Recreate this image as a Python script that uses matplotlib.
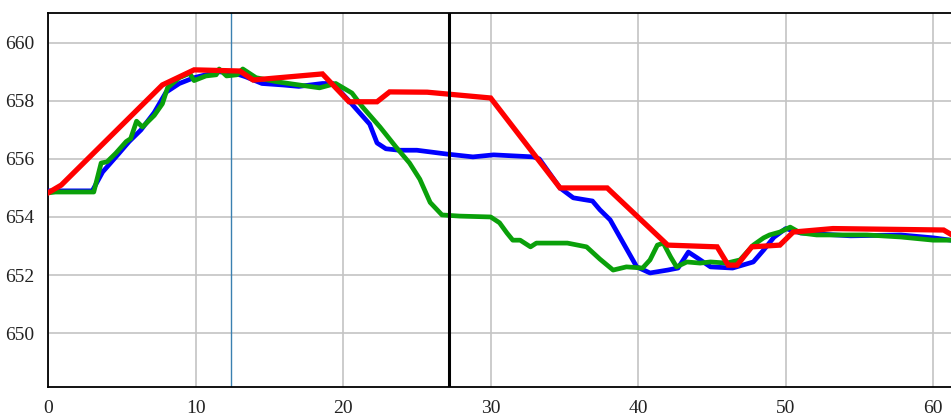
import numpy as np
import matplotlib
matplotlib.use("Agg")
import matplotlib.pyplot as plt

plt.rcParams['font.family'] = ['Liberation Serif', 'DejaVu Serif']

# red series (stepped planned line)
red_x = [0, 0.9, 7.75, 9.9, 13.0, 13.9, 18.6, 20.4, 22.3, 23.15, 25.7, 30.0, 34.7, 37.9,
         42.0, 45.35, 46.1, 46.7, 47.7, 49.6, 50.5, 53.2, 60.7, 61.2]
red_y = [654.83, 655.1, 658.55, 659.07, 659.03, 658.72, 658.93, 657.97, 657.97, 658.31,
         658.3, 658.1, 655.0, 655.0, 653.03, 652.97, 652.34, 652.34, 652.97, 653.03,
         653.48, 653.6, 653.55, 653.4]

# blue series
blue_x = [0, 3.0, 3.7, 4.6, 5.5, 6.3, 7.2, 8.0, 8.9, 9.9, 10.7, 11.6, 12.5, 13.4, 14.5,
          15.9, 17.0, 18.6, 19.3, 20.4, 21.8, 22.3, 22.9, 23.8, 25.0, 27.0, 28.8, 30.2,
          32.9, 33.3, 34.7, 35.6, 36.3, 36.9, 37.4, 38.1, 39.9, 40.8, 42.0, 42.7, 43.4,
          44.0, 44.9, 46.4, 47.8, 48.5, 49.2, 50.0, 51.0, 54.4, 57.8, 60.0, 61.2]
blue_y = [654.9, 654.9, 655.55, 656.07, 656.6, 657.0, 657.6, 658.3, 658.6, 658.8, 658.9,
          659.0, 658.98, 658.83, 658.6, 658.55, 658.5, 658.6, 658.6, 658.0, 657.2, 656.55,
          656.35, 656.3, 656.3, 656.17, 656.07, 656.14, 656.07, 656.0, 655.0, 654.66,
          654.6, 654.55, 654.25, 653.9, 652.28, 652.07, 652.17, 652.24, 652.79, 652.59,
          652.28, 652.24, 652.45, 652.86, 653.3, 653.6, 653.45, 653.35, 653.38, 653.28,
          653.2]

# green series
green_x = [0, 0.5, 3.1, 3.6, 4.0, 4.6, 5.3, 5.6, 6.0, 6.4, 7.2, 7.75, 8.1, 8.9, 9.6, 9.9,
           10.7, 11.4, 11.6, 12.1, 12.8, 13.2, 14.1, 15.5, 17.0, 18.4, 19.5, 20.6, 21.3,
           22.5, 23.6, 24.5, 25.2, 25.9, 26.7, 27.9, 30.0, 30.6, 31.1, 31.5, 32.0, 32.7,
           33.1, 35.2, 36.5, 37.4, 38.3, 39.2, 40.3, 40.8, 41.3, 41.7, 42.2, 42.6, 43.3,
           44.2, 44.9, 46.0, 46.9, 47.8, 48.5, 48.9, 49.6, 50.3, 51.0, 52.1, 55.5, 57.8,
           60.0, 61.2]
green_y = [654.83, 654.86, 654.86, 655.86, 655.9, 656.2, 656.6, 656.7, 657.3, 657.1, 657.5,
           657.9, 658.45, 658.8, 658.95, 658.7, 658.86, 658.9, 659.1, 658.86, 658.9, 659.1,
           658.8, 658.66, 658.55, 658.45, 658.6, 658.27, 657.8, 657.1, 656.4, 655.86, 655.3,
           654.5, 654.07, 654.03, 654.0, 653.8, 653.45, 653.2, 653.2, 652.97, 653.1, 653.1,
           652.97, 652.55, 652.17, 652.28, 652.24, 652.52, 653.03, 653.1, 652.62, 652.28,
           652.45, 652.41, 652.45, 652.41, 652.52, 653.03, 653.28, 653.38, 653.48, 653.65,
           653.45, 653.38, 653.38, 653.31, 653.2, 653.2]

cursor_x = 12.4   # thin blue marker
now_x = 27.2      # thick black marker

xticks = [0, 10, 20, 30, 40, 50, 60]
yticks = [650, 652, 654, 656, 658, 660]

fig = plt.figure(figsize=(9.51, 4.16), dpi=100)
ax = fig.add_axes([0.0505, 0.0697, 0.9495, 0.8991])

ax.plot(blue_x, blue_y, color='#0000ff', lw=3.4, solid_capstyle='round', zorder=3)
ax.plot(green_x, green_y, color='#0aa00a', lw=3.4, solid_capstyle='round', zorder=4)
ax.plot(red_x, red_y, color='#ff0000', lw=3.8, solid_joinstyle='miter', zorder=5)

ax.axvline(cursor_x, color='#3a80b0', lw=1.0, zorder=2)
ax.axvline(now_x, color='black', lw=2.2, zorder=6)

ax.set_xlim(0, 61.2)
ax.set_ylim(648.14, 661.03)
ax.set_xticks(xticks)
ax.set_yticks(yticks)
ax.grid(True, color='#c4c4c4', lw=1.2)
ax.set_axisbelow(True)
ax.tick_params(length=0, labelsize=14, colors='#222222')
ax.tick_params(axis='x', pad=9)
ax.tick_params(axis='y', pad=10)
for s in ['left', 'top', 'bottom']:
    ax.spines[s].set_color('black')
    ax.spines[s].set_linewidth(1.3)
ax.spines['right'].set_visible(False)

fig.savefig('out.png', dpi=100)
